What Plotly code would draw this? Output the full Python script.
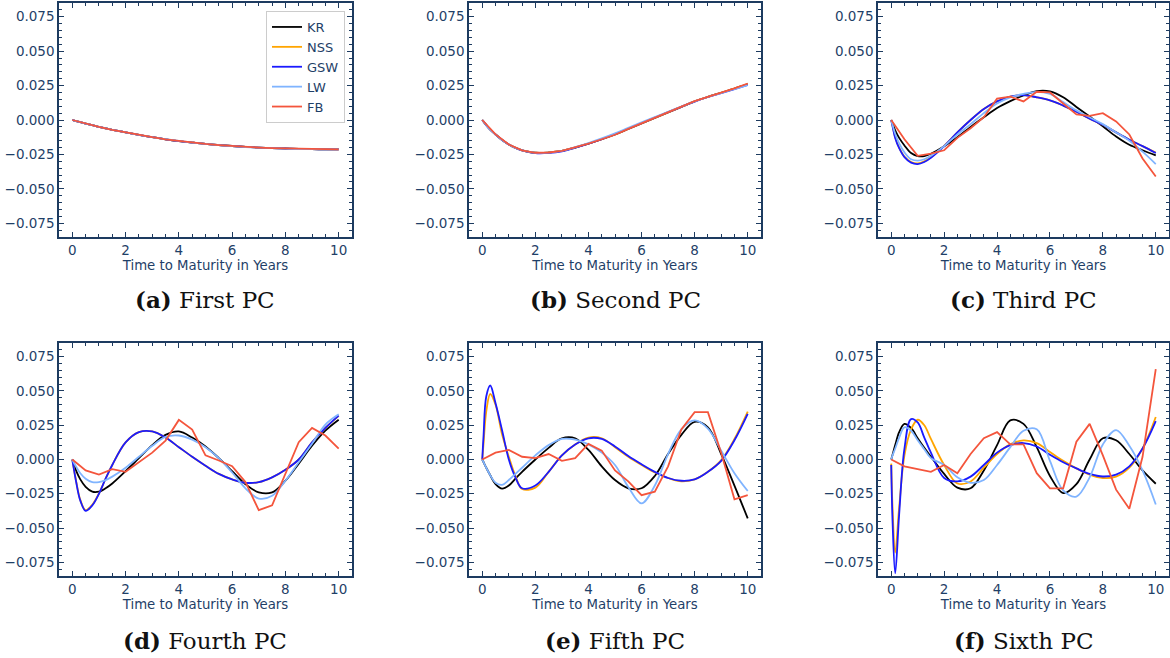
import plotly.graph_objects as go

# ---------------- data ----------------
METHODS = ["KR", "NSS", "GSW", "LW", "FB"]
COLORS = {"KR": "#000000", "NSS": "#FFA500", "GSW": "#1a1aff", "LW": "#80b4ff", "FB": "#f4553c"}

X_SMOOTH = [0, 0.05, 0.15, 0.3, 0.5, 0.75, 1, 1.25, 1.5, 2, 2.5, 3, 3.5, 4, 4.5, 5,
            5.5, 6, 6.5, 7, 7.5, 8, 8.5, 9, 9.5, 10]
X_FB = [0, 0.5, 1, 1.5, 2, 2.5, 3, 3.5, 4, 4.5, 5, 5.5, 6, 6.5, 7, 7.5, 8, 8.5, 9, 9.5, 10]

# First PC
PC1_KR = [0, -0.0003, -0.0008, -0.0016, -0.0026, -0.0038, -0.005, -0.0061, -0.0071, -0.009, -0.0108, -0.0125, -0.014,
          -0.0153, -0.0164, -0.0174, -0.0182, -0.0189, -0.0195, -0.0200, -0.0204, -0.0207, -0.021, -0.0212, -0.0213, -0.0214]
PC1_NSS = PC1_KR
PC1_GSW = PC1_KR
PC1_LW = [0, -0.0003, -0.0008, -0.0016, -0.0026, -0.0038, -0.005, -0.0061, -0.0071, -0.009, -0.0108, -0.0124, -0.0139,
          -0.0152, -0.0164, -0.0174, -0.0183, -0.019, -0.0196, -0.0201, -0.0205, -0.0208, -0.0211, -0.0212, -0.0213, -0.0214]
PC1_FB = [0, -0.0026, -0.005, -0.0071, -0.009, -0.0108, -0.0125, -0.014, -0.0153, -0.0164, -0.0174, -0.0182, -0.0189,
          -0.0195, -0.0200, -0.0204, -0.0207, -0.021, -0.0212, -0.0213, -0.0214]

# Second PC
PC2_KR = [0, -0.0012, -0.0037, -0.007, -0.0105, -0.0145, -0.0178, -0.0203, -0.022, -0.0238, -0.0236, -0.0225, -0.0200,
          -0.0172, -0.0140, -0.0105, -0.0065, -0.0025, 0.0015, 0.0055, 0.0095, 0.0135, 0.0168, 0.0198, 0.0228, 0.026]
PC2_NSS = PC2_KR
PC2_GSW = [0, -0.0012, -0.0037, -0.007, -0.0105, -0.0145, -0.0178, -0.0203, -0.0221, -0.024, -0.0239, -0.0227, -0.0201,
           -0.0172, -0.0139, -0.0103, -0.0063, -0.0023, 0.0017, 0.0057, 0.0096, 0.0134, 0.0167, 0.0196, 0.0225, 0.0255]
PC2_LW = [0, -0.0012, -0.0037, -0.007, -0.0105, -0.0145, -0.0178, -0.0203, -0.022, -0.0238, -0.0237, -0.0224, -0.0197,
          -0.0167, -0.0134, -0.0097, -0.0057, -0.0017, 0.0022, 0.006, 0.0098, 0.0135, 0.0167, 0.0196, 0.0225, 0.0253]
PC2_FB = [0, -0.0105, -0.0178, -0.022, -0.0238, -0.0236, -0.0225, -0.0200, -0.0172, -0.0140, -0.0107, -0.0065, -0.0025,
          0.0015, 0.0055, 0.0095, 0.0137, 0.0168, 0.0198, 0.0230, 0.0265]

# Third PC
PC3_KR = [0, -0.0025, -0.0075, -0.013, -0.0185, -0.024, -0.0262, -0.0262, -0.0245, -0.019, -0.0125, -0.005, 0.002,
          0.0087, 0.0137, 0.0178, 0.021, 0.0208, 0.0165, 0.0095, 0.0025, -0.0046, -0.012, -0.018, -0.022, -0.0257]
PC3_NSS = [0, -0.0043, -0.0125, -0.020, -0.0265, -0.0305, -0.0315, -0.030, -0.027, -0.0188, -0.009, 0.0, 0.008,
           0.0135, 0.017, 0.018, 0.0165, 0.0143, 0.0105, 0.006, 0.001, -0.0035, -0.009, -0.0143, -0.019, -0.0237]
PC3_GSW = [0, -0.0045, -0.013, -0.0205, -0.027, -0.031, -0.032, -0.0305, -0.0275, -0.019, -0.009, 0.0, 0.008,
           0.0135, 0.017, 0.018, 0.0165, 0.0143, 0.0105, 0.006, 0.001, -0.0035, -0.009, -0.0143, -0.019, -0.024]
PC3_LW = [0, -0.0035, -0.010, -0.017, -0.0235, -0.0285, -0.0295, -0.0285, -0.026, -0.019, -0.0105, -0.003, 0.005,
          0.012, 0.0165, 0.019, 0.0205, 0.019, 0.013, 0.007, 0.002, -0.003, -0.009, -0.015, -0.023, -0.032]
PC3_FB = [0, -0.014, -0.026, -0.0245, -0.022, -0.013, -0.006, 0.002, 0.0155, 0.017, 0.0135, 0.0205, 0.020, 0.012,
          0.004, 0.003, 0.005, -0.001, -0.0105, -0.028, -0.041]

# Fourth PC
PC4_KR = [0, -0.003, -0.0085, -0.0145, -0.020, -0.0235, -0.0235, -0.021, -0.0175, -0.0085, 0.001, 0.0105, 0.018,
          0.0205, 0.016, 0.0095, 0.001, -0.0085, -0.018, -0.024, -0.024, -0.0155, -0.003, 0.010, 0.021, 0.029]
PC4_NSS = [0, -0.0058, -0.0165, -0.0295, -0.037, -0.033, -0.0248, -0.014, -0.004, 0.0125, 0.020, 0.0205, 0.016,
           0.009, 0.002, -0.0045, -0.0105, -0.0145, -0.017, -0.0165, -0.013, -0.0075, 0.0, 0.0125, 0.023, 0.0318]
PC4_GSW = [0, -0.006, -0.017, -0.030, -0.0375, -0.0335, -0.025, -0.014, -0.004, 0.0125, 0.020, 0.0205, 0.016,
           0.009, 0.002, -0.0045, -0.0105, -0.0145, -0.017, -0.0165, -0.013, -0.0075, 0.0, 0.0125, 0.023, 0.032]
PC4_LW = [0, -0.002, -0.0055, -0.010, -0.014, -0.0165, -0.0165, -0.015, -0.0125, -0.006, 0.002, 0.010, 0.0165,
          0.0175, 0.0145, 0.009, 0.001, -0.0095, -0.021, -0.0285, -0.0265, -0.0155, -0.002, 0.0115, 0.0255, 0.033]
PC4_FB = [0, -0.008, -0.011, -0.007, -0.009, -0.002, 0.005, 0.0138, 0.0289, 0.0218, 0.003, -0.0007, -0.0049,
          -0.0165, -0.037, -0.0335, -0.0104, 0.0126, 0.023, 0.0175, 0.008]

# Fifth PC
PC5_KR = [0, -0.002, -0.006, -0.0115, -0.018, -0.0213, -0.019, -0.014, -0.009, 0.0, 0.0085, 0.0155, 0.0155, 0.007,
          -0.005, -0.015, -0.021, -0.021, -0.012, 0.004, 0.018, 0.0275, 0.0235, 0.004, -0.019, -0.043]
PC5_NSS = [0, 0.012, 0.035, 0.0478, 0.040, 0.018, 0.002, -0.012, -0.0215, -0.0205, -0.009, 0.003, 0.011, 0.016,
           0.0155, 0.009, 0.002, -0.004, -0.0095, -0.0135, -0.016, -0.0145, -0.009, -0.0005, 0.015, 0.035]
PC5_GSW = [0, 0.018, 0.046, 0.054, 0.041, 0.021, 0.0, -0.013, -0.021, -0.019, -0.009, 0.003, 0.011, 0.0155, 0.015,
           0.0095, 0.0025, -0.0035, -0.009, -0.0135, -0.0155, -0.0145, -0.009, -0.001, 0.014, 0.0333]
PC5_LW = [0, -0.002, -0.006, -0.0115, -0.017, -0.0185, -0.015, -0.0105, -0.006, 0.003, 0.0105, 0.015, 0.0145, 0.011,
          0.005, -0.004, -0.020, -0.032, -0.019, 0.004, 0.022, 0.0285, 0.0225, 0.0065, -0.010, -0.023]
PC5_FB = [0, 0.005, 0.007, 0.002, 0.001, 0.004, -0.001, 0.001, 0.0114, 0.0065, -0.008, -0.016, -0.026, -0.0235,
          -0.005, 0.022, 0.0345, 0.0345, 0.005, -0.029, -0.026]

# Sixth PC
PC6_KR = [0, 0.0035, 0.0105, 0.020, 0.026, 0.023, 0.0155, 0.0085, 0.002, -0.0105, -0.0205, -0.021, -0.008, 0.0105,
          0.0285, 0.026, 0.009, -0.012, -0.0245, -0.018, 0.0, 0.0155, 0.014, 0.004, -0.008, -0.0177]
PC6_NSS = [-0.003, -0.035, -0.068, -0.035, 0.003, 0.022, 0.029, 0.025, 0.015, -0.004, -0.0175, -0.016, -0.006, 0.004,
           0.011, 0.014, 0.012, 0.0055, -0.001, -0.0065, -0.011, -0.0135, -0.0125, -0.006, 0.008, 0.031]
PC6_GSW = [-0.004, -0.045, -0.083, -0.040, 0.008, 0.0295, 0.027, 0.016, 0.005, -0.0135, -0.016, -0.0125, -0.004,
           0.005, 0.0105, 0.012, 0.0095, 0.0035, -0.002, -0.0065, -0.0105, -0.0124, -0.011, -0.005, 0.008, 0.028]
PC6_LW = [0, 0.003, 0.008, 0.016, 0.0235, 0.021, 0.014, 0.0075, 0.001, -0.004, -0.013, -0.017, -0.015, -0.004, 0.009,
          0.021, 0.022, -0.001, -0.0226, -0.027, -0.013, 0.011, 0.0215, 0.010, -0.008, -0.0328]
PC6_FB = [0, -0.005, -0.007, -0.009, -0.004, -0.010, 0.004, 0.0155, 0.020, 0.011, 0.011, -0.010, -0.021, -0.021,
          0.013, 0.026, 0.003, -0.022, -0.036, 0.002, 0.066]

PANELS = [
    {"KR": PC1_KR, "NSS": PC1_NSS, "GSW": PC1_GSW, "LW": PC1_LW, "FB": PC1_FB},
    {"KR": PC2_KR, "NSS": PC2_NSS, "GSW": PC2_GSW, "LW": PC2_LW, "FB": PC2_FB},
    {"KR": PC3_KR, "NSS": PC3_NSS, "GSW": PC3_GSW, "LW": PC3_LW, "FB": PC3_FB},
    {"KR": PC4_KR, "NSS": PC4_NSS, "GSW": PC4_GSW, "LW": PC4_LW, "FB": PC4_FB},
    {"KR": PC5_KR, "NSS": PC5_NSS, "GSW": PC5_GSW, "LW": PC5_LW, "FB": PC5_FB},
    {"KR": PC6_KR, "NSS": PC6_NSS, "GSW": PC6_GSW, "LW": PC6_LW, "FB": PC6_FB},
]
CAPTIONS = ["<b>(a)</b> First PC", "<b>(b)</b> Second PC", "<b>(c)</b> Third PC",
            "<b>(d)</b> Fourth PC", "<b>(e)</b> Fifth PC", "<b>(f)</b> Sixth PC"]
X_TICKS = [0, 2, 4, 6, 8, 10]
Y_TICKS = [-0.075, -0.05, -0.025, 0.0, 0.025, 0.05, 0.075]
X_TITLE = "Time to Maturity in Years"

# ---------------- layout ----------------
W, H = 1170, 658
COLS_PX = [(59, 352), (469, 761), (878, 1169)]
ROWS_PX = [(3, 237), (343, 576)]
NAVY = "#1d3b60"
TXT = "#1f3f68"

fig = go.Figure()

for i, panel in enumerate(PANELS):
    r, c = divmod(i, 3)
    ax = "" if i == 0 else str(i + 1)
    for m in METHODS:
        xs = X_FB if m == "FB" else X_SMOOTH
        fig.add_trace(go.Scatter(
            x=xs, y=panel[m], mode="lines", name=m,
            line=dict(color=COLORS[m], width=1.8, shape="linear" if m == "FB" else "spline"),
            showlegend=(i == 0), legendgroup=m,
            xaxis="x" + ax, yaxis="y" + ax))
    x0, x1 = COLS_PX[c]
    y0, y1 = ROWS_PX[r]
    common = dict(showgrid=False, zeroline=False, showline=True, mirror="allticks",
                  linecolor=NAVY, linewidth=1.5, ticks="inside", ticklen=5, tickwidth=1.2,
                  tickcolor=NAVY, tickfont=dict(family="DejaVu Sans", size=13.5, color=TXT))
    fig.layout["xaxis" + ax] = dict(
        domain=[x0 / W, x1 / W], anchor="y" + ax, range=[-0.5, 10.5],
        tickvals=X_TICKS, minor=dict(dtick=0.5, tick0=0, ticks="inside", ticklen=3, tickcolor=NAVY),
        title=dict(text=X_TITLE, standoff=0, font=dict(family="DejaVu Sans", size=13.3, color=TXT)),
        **common)
    fig.layout["yaxis" + ax] = dict(
        domain=[1 - y1 / H, 1 - y0 / H], anchor="x" + ax, range=[-0.085, 0.085],
        tickvals=Y_TICKS, tickformat=".3f",
        minor=dict(dtick=0.005, tick0=0, ticks="inside", ticklen=3, tickcolor=NAVY),
        **common)
    fig.add_annotation(text=CAPTIONS[i], xref="paper", yref="paper",
                       x=(x0 + x1) / 2 / W, y=1 - (299 if r == 0 else 640) / H,
                       xanchor="center", yanchor="middle", showarrow=False,
                       font=dict(family="DejaVu Serif", size=23, color="#111111"))

fig.update_layout(
    width=W, height=H, margin=dict(l=0, r=0, t=0, b=0),
    paper_bgcolor="white", plot_bgcolor="white",
    legend=dict(x=345 / W, y=1 - 11 / H, xanchor="right", yanchor="top",
                bgcolor="white", bordercolor="#cccccc", borderwidth=1,
                font=dict(family="DejaVu Sans", size=13, color=TXT),
                itemwidth=30, tracegroupgap=0),
)

fig.write_html("out.html", config={"displayModeBar": False},
               post_script="document.body.style.margin='0px';document.body.style.overflow='hidden';")
